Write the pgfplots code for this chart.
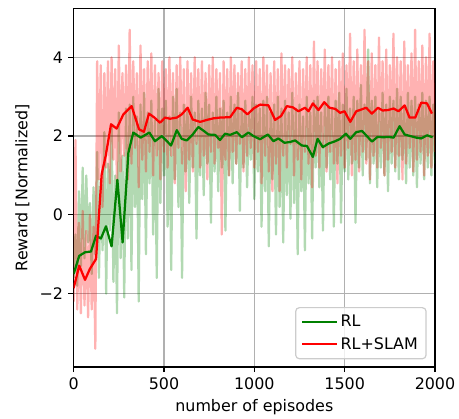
\documentclass[border=0pt]{standalone}
\usepackage{pgfplots}
\pgfplotsset{compat=1.18}
\usepackage{fontspec}
\setmainfont{DejaVu Sans}
\definecolor{mplgreen}{RGB}{0,128,0}
\definecolor{mplred}{RGB}{255,0,0}
\definecolor{gridgray}{RGB}{176,176,176}
\begin{document}
\begin{tikzpicture}
\path[use as bounding box] (-49.1pt,-34.7pt) rectangle (256.9pt,244.6pt);
\begin{axis}[
    at={(0,0)}, anchor=south west,
    scale only axis, width=240.9pt, height=238.7pt,
    xmin=0, xmax=2000, ymin=-3.86, ymax=5.23,
    xtick={0,500,1000,1500,2000},
    xticklabels={0,500,1000,1500,2000},
    ytick={-2,0,2,4},
    yticklabels={−2,0,2,4},
    xtick pos=left, ytick pos=left,
    tick align=outside,
    major tick length=3.5pt,
    every tick/.style={black, line width=0.8pt},
    axis line style={black, line width=0.8pt},
    grid=major,
    grid style={gridgray, line width=0.8pt},
    tick label style={font=\fontsize{10.6}{12.7}\selectfont},
    label style={font=\fontsize{10.6}{12.7}\selectfont},
    xlabel={number of episodes},
    ylabel={Reward [Normalized]},
    legend style={at={(0.977,0.021)}, anchor=south east,
        draw=black!20, line width=0.8pt, rounded corners=2.5pt,
        fill=white, fill opacity=0.8, draw opacity=1, text opacity=1,
        font=\fontsize{10.6}{12.7}\selectfont,
        inner xsep=3.5pt, inner ysep=3pt, row sep=1.5pt},
    legend cell align=left,
    legend image code/.code={\draw[#1] (0pt,0pt) -- (23pt,0pt);},
  ]
  % raw rewards, RL
  \addplot[forget plot, mplgreen, draw opacity=0.3, line width=1.5pt, line join=round] coordinates {
    (0,-1.6) (10,-0.5) (20,-1.8) (30,0.6) (40,-1.3) (50,1.2) (60,-1.1) (70,1.0) (80,-0.7) (90,0.3)
    (100,-1.5) (110,0.7) (120,-1.0) (130,1.6) (140,-1.6) (150,0.9) (160,-0.9) (170,2.1) (180,-2.0) (190,1.3)
    (200,-0.4) (210,2.3) (220,-1.7) (230,1.0) (240,-2.5) (250,2.6) (260,-1.1) (270,1.5) (280,-2.1) (290,2.7)
    (300,-0.6) (310,2.8) (320,-1.4) (330,3.0) (340,0.2) (350,2.5) (360,-2.2) (370,2.8) (380,0.4) (390,3.1)
    (400,-1.0) (410,2.6) (420,0.8) (430,2.9) (440,-0.5) (450,2.4) (460,-1.6) (470,3.2) (480,0.3) (490,2.7)
    (500,1.0) (510,2.9) (520,-0.3) (530,2.5) (540,-1.4) (550,3.0) (560,0.9) (570,3.2) (580,0.2) (590,2.6)
    (600,-1.6) (610,2.8) (620,1.1) (630,2.7) (640,0.3) (650,3.0) (660,1.2) (670,2.6) (680,-0.6) (690,2.9)
    (700,1.0) (710,2.7) (720,0.5) (730,3.1) (740,1.3) (750,2.8) (760,-0.2) (770,2.6) (780,1.1) (790,3.0)
    (800,0.6) (810,2.7) (820,1.2) (830,2.9) (840,-0.4) (850,2.6) (860,1.0) (870,3.0) (880,0.8) (890,2.8)
    (900,1.3) (910,3.1) (920,0.1) (930,2.7) (940,1.2) (950,2.9) (960,0.7) (970,2.6) (980,1.4) (990,3.0)
    (1000,0.4) (1010,2.8) (1020,1.1) (1030,2.7) (1040,-0.3) (1050,2.9) (1060,0.6) (1070,3.0) (1080,-0.8) (1090,2.6)
    (1100,0.9) (1110,2.8) (1120,-0.5) (1130,3.0) (1140,0.2) (1150,2.7) (1160,-0.7) (1170,2.9) (1180,0.5) (1190,2.6)
    (1200,-0.1) (1210,3.1) (1220,0.3) (1230,2.7) (1240,-1.0) (1250,2.8) (1260,0.6) (1270,2.5) (1280,-0.9) (1290,3.0)
    (1300,0.8) (1310,2.6) (1320,-0.6) (1330,2.9) (1340,1.2) (1350,3.0) (1360,0.7) (1370,2.6) (1380,-0.4) (1390,2.8)
    (1400,1.2) (1410,3.0) (1420,0.9) (1430,2.7) (1440,-0.3) (1450,2.9) (1460,1.3) (1470,3.1) (1480,-0.2) (1490,2.8)
    (1500,1.1) (1510,3.2) (1520,0.9) (1530,2.7) (1540,1.3) (1550,3.0) (1560,-0.2) (1570,2.9) (1580,1.2) (1590,3.3)
    (1600,1.0) (1610,2.8) (1620,1.4) (1630,4.2) (1640,0.8) (1650,2.9) (1660,1.3) (1670,3.0) (1680,0.7) (1690,2.7)
    (1700,1.2) (1710,3.1) (1720,1.0) (1730,2.8) (1740,0.6) (1750,3.0) (1760,1.3) (1770,2.9) (1780,1.1) (1790,3.2)
    (1800,0.9) (1810,3.0) (1820,1.4) (1830,2.7) (1840,0.8) (1850,3.1) (1860,1.2) (1870,2.9) (1880,1.0) (1890,3.0)
    (1900,0.7) (1910,2.8) (1920,1.3) (1930,3.1) (1940,0.9) (1950,2.9) (1960,1.2) (1970,3.0) (1980,1.0) (1990,2.8)
    (2000,1.3)
  };
  % raw rewards, RL+SLAM
  \addplot[forget plot, mplred, draw opacity=0.3, line width=1.5pt, line join=round] coordinates {
    (0,-2.2) (10,1.9) (20,-2.4) (30,-0.2) (40,-2.5) (50,0.1) (60,-2.3) (70,-0.4) (80,-2.6) (90,0.0)
    (100,-2.4) (110,-0.3) (120,-3.4) (130,3.9) (140,0.9) (150,3.8) (160,0.2) (170,3.6) (180,1.2) (190,3.9)
    (200,0.8) (210,4.0) (220,1.4) (230,3.7) (240,0.6) (250,4.3) (260,1.1) (270,3.6) (280,1.5) (290,3.8)
    (300,0.9) (310,4.7) (320,1.3) (330,3.9) (340,1.7) (350,3.6) (360,0.7) (370,4.3) (380,1.4) (390,3.7)
    (400,1.1) (410,3.9) (420,1.6) (430,4.1) (440,1.0) (450,3.8) (460,1.5) (470,3.6) (480,0.9) (490,3.9)
    (500,1.6) (510,3.7) (520,1.2) (530,4.0) (540,1.5) (550,3.6) (560,0.8) (570,3.8) (580,1.7) (590,4.0)
    (600,1.3) (610,3.7) (620,0.6) (630,3.9) (640,1.4) (650,3.6) (660,1.1) (670,4.0) (680,1.8) (690,3.7)
    (700,1.2) (710,3.9) (720,1.5) (730,3.6) (740,0.9) (750,3.8) (760,1.6) (770,4.0) (780,1.3) (790,3.7)
    (800,1.7) (810,3.6) (820,-0.5) (830,3.9) (840,1.4) (850,3.7) (860,1.0) (870,4.0) (880,1.6) (890,3.8)
    (900,1.3) (910,3.6) (920,1.8) (930,3.9) (940,1.1) (950,3.7) (960,1.5) (970,4.0) (980,1.7) (990,3.8)
    (1000,1.2) (1010,3.9) (1020,1.6) (1030,3.7) (1040,0.8) (1050,4.0) (1060,1.5) (1070,3.8) (1080,1.1) (1090,3.6)
    (1100,0.6) (1110,3.9) (1120,1.3) (1130,3.7) (1140,0.6) (1150,4.1) (1160,1.5) (1170,3.8) (1180,1.2) (1190,3.7)
    (1200,1.8) (1210,4.0) (1220,1.0) (1230,3.6) (1240,1.4) (1250,3.9) (1260,0.9) (1270,3.7) (1280,1.6) (1290,4.0)
    (1300,1.3) (1310,3.8) (1320,0.7) (1330,4.4) (1340,1.5) (1350,3.9) (1360,1.2) (1370,3.7) (1380,1.7) (1390,4.2)
    (1400,1.1) (1410,3.8) (1420,1.6) (1430,4.0) (1440,1.3) (1450,3.7) (1460,0.8) (1470,3.9) (1480,1.5) (1490,4.1)
    (1500,1.2) (1510,3.8) (1520,1.7) (1530,4.6) (1540,1.0) (1550,3.9) (1560,1.4) (1570,4.2) (1580,1.1) (1590,3.8)
    (1600,1.6) (1610,4.7) (1620,1.3) (1630,3.9) (1640,0.9) (1650,4.1) (1660,1.5) (1670,3.8) (1680,1.2) (1690,4.5)
    (1700,1.7) (1710,3.9) (1720,1.0) (1730,4.2) (1740,1.4) (1750,3.8) (1760,1.6) (1770,4.6) (1780,1.2) (1790,4.0)
    (1800,1.5) (1810,3.9) (1820,0.9) (1830,4.4) (1840,1.3) (1850,3.8) (1860,1.7) (1870,4.1) (1880,1.1) (1890,4.7)
    (1900,1.4) (1910,3.9) (1920,1.6) (1930,4.3) (1940,1.0) (1950,4.0) (1960,1.5) (1970,4.6) (1980,1.2) (1990,3.9)
    (2000,1.6)
  };
  % smoothed, RL
  \addplot[mplgreen, line width=1.5pt, line join=round] coordinates {
    (0,-1.50) (31,-1.04) (63,-0.95) (96,-0.93) (124,-0.53) (151,-0.60) (179,-0.29) (210,-0.80)
    (242,0.89) (271,-0.70) (303,1.58) (330,2.09) (371,1.96) (419,2.09) (450,1.87) (488,2.00)
    (506,1.92) (539,1.76) (571,2.15) (598,1.93) (626,1.89) (659,2.04) (690,2.23) (718,2.14)
    (746,2.04) (783,2.03) (810,1.90) (838,2.06) (866,2.03) (903,2.10) (931,1.97) (967,2.09)
    (995,2.00) (1032,1.92) (1075,2.04) (1106,1.87) (1133,1.94) (1167,1.83) (1198,1.85) (1226,1.89)
    (1263,1.76) (1291,1.75) (1324,1.47) (1350,1.93) (1379,1.72) (1411,1.81) (1448,1.87) (1475,1.93)
    (1507,2.06) (1531,1.93) (1564,2.10) (1596,2.13) (1623,2.00) (1651,1.86) (1682,1.98) (1715,1.97)
    (1743,1.98) (1771,1.96) (1804,2.25) (1832,2.04) (1864,2.00) (1897,1.96) (1924,1.94) (1956,2.02)
    (1987,1.97)
  };
  \addlegendentry{RL}
  % smoothed, RL+SLAM
  \addplot[mplred, line width=1.5pt, line join=round] coordinates {
    (0,-1.86) (31,-1.29) (63,-1.65) (90,-1.37) (124,-1.12) (155,1.03) (177,1.49) (207,2.30)
    (238,2.19) (275,2.55) (321,2.76) (362,2.17) (389,2.11) (417,2.57) (447,2.47) (478,2.34)
    (506,2.47) (533,2.44) (571,2.47) (598,2.55) (631,2.72) (659,2.42) (700,2.36) (737,2.41)
    (773,2.45) (810,2.47) (866,2.48) (903,2.72) (931,2.68) (962,2.55) (995,2.70) (1032,2.80)
    (1078,2.78) (1115,2.41) (1148,2.51) (1180,2.76) (1213,2.73) (1244,2.63) (1281,2.72) (1300,2.63)
    (1324,2.83) (1355,2.66) (1387,2.86) (1416,2.72) (1448,2.69) (1475,2.59) (1499,2.63) (1531,2.36)
    (1564,2.63) (1596,2.68) (1619,2.72) (1651,2.57) (1684,2.72) (1710,2.65) (1739,2.66) (1771,2.70)
    (1798,2.63) (1832,2.78) (1859,2.47) (1891,2.47) (1924,2.85) (1956,2.83) (1983,2.57)
  };
  \addlegendentry{RL+SLAM}
\end{axis}
\end{tikzpicture}
\end{document}
